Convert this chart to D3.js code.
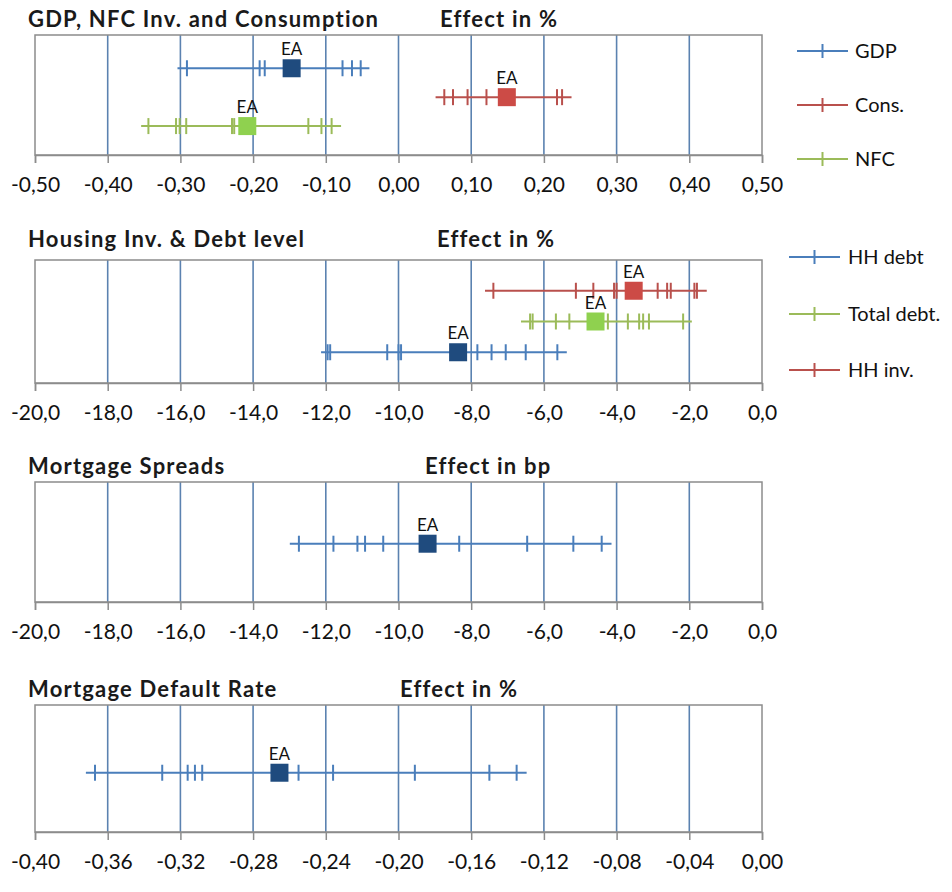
<!DOCTYPE html>
<html>
<head>
<meta charset="utf-8">
<script src="https://cdn.jsdelivr.net/npm/d3@7"></script>
<style>
  body { margin: 0; background: #ffffff; }
  svg { display: block; font-family: Lato, "Open Sans", sans-serif; }
</style>
</head>
<body>
<svg id="chart" width="952" height="892"></svg>
<script>
// ---- Panel 1: GDP, NFC investment and consumption (effect in %) ----
const gdpCountries  = [-0.291, -0.191, -0.184, -0.077, -0.064, -0.052];
const gdpRange      = [-0.304, -0.040];
const gdpEA         = -0.147;
const consCountries = [0.063, 0.075, 0.095, 0.121, 0.218, 0.225];
const consRange     = [0.051, 0.238];
const consEA        = 0.149;
const nfcCountries  = [-0.344, -0.306, -0.301, -0.292, -0.229, -0.226, -0.124, -0.106, -0.092];
const nfcRange      = [-0.354, -0.079];
const nfcEA         = -0.208;
const panel1Ticks   = [-0.5, -0.4, -0.3, -0.2, -0.1, 0, 0.1, 0.2, 0.3, 0.4, 0.5];

// ---- Panel 2: housing investment and debt level (effect in %) ----
const hhInvCountries  = [-7.39, -5.12, -4.64, -4.07, -4.00, -2.87, -2.61, -2.51, -1.86, -1.79];
const hhInvRange      = [-7.62, -1.52];
const hhInvEA         = -3.53;
const totDebtCountries = [-6.38, -6.31, -5.67, -5.30, -4.24, -3.69, -3.38, -3.27, -3.11, -2.17];
const totDebtRange    = [-6.63, -1.93];
const totDebtEA       = -4.58;
const hhDebtCountries = [-11.95, -11.88, -10.31, -10.00, -9.93, -7.83, -7.44, -7.05, -6.50, -5.63];
const hhDebtRange     = [-12.13, -5.37];
const hhDebtEA        = -8.36;
const panel2Ticks     = [-20, -18, -16, -14, -12, -10, -8, -6, -4, -2, 0];

// ---- Panel 3: mortgage spreads (effect in bp) ----
const spreadCountries = [-12.74, -11.79, -11.13, -10.92, -10.42, -8.33, -6.46, -5.19, -4.41];
const spreadRange     = [-12.99, -4.14];
const spreadEA        = -9.20;
const panel3Ticks     = [-20, -18, -16, -14, -12, -10, -8, -6, -4, -2, 0];

// ---- Panel 4: mortgage default rate (effect in %) ----
const defaultCountries = [-0.367, -0.330, -0.316, -0.312, -0.308, -0.255, -0.236, -0.191, -0.150, -0.135];
const defaultRange     = [-0.372, -0.1295];
const defaultEA        = -0.2655;
const panel4Ticks      = [-0.40, -0.36, -0.32, -0.28, -0.24, -0.20, -0.16, -0.12, -0.08, -0.04, 0];

// Colours
const BLUE_LINE = "#4a7ebb", BLUE_EA = "#1f4b7e";
const RED_LINE  = "#b9504c", RED_EA  = "#cc4b46";
const GREEN_LINE = "#9bbb59", GREEN_EA = "#8fd14f";
const GRID = "#5b82b0", FRAME = "#8c8c8c";

const locale = d3.formatLocale({ decimal: ",", thousands: ".", grouping: [3], currency: ["", "€"], minus: "-" });

const panels = [
  {
    title: "GDP, NFC Inv. and Consumption", unit: "Effect in %", unitX: 440,
    top: 35, bottom: 155, titleY: 27, domain: [-0.5, 0.5], ticks: panel1Ticks, fmt: locale.format(".2f"),
    yMax: 4.15,
    series: [
      { name: "GDP",   row: 3, values: gdpCountries,  range: gdpRange,  ea: gdpEA,  line: BLUE_LINE,  fill: BLUE_EA },
      { name: "Cons.", row: 2, values: consCountries, range: consRange, ea: consEA, line: RED_LINE,   fill: RED_EA },
      { name: "NFC",   row: 1, values: nfcCountries,  range: nfcRange,  ea: nfcEA,  line: GREEN_LINE, fill: GREEN_EA }
    ],
    legend: { x0: 797, x1: 848, tx: 855, ys: [51, 105, 159], order: ["GDP", "Cons.", "NFC"] }
  },
  {
    title: "Housing Inv. & Debt level", unit: "Effect in %", unitX: 437,
    top: 260, bottom: 383, titleY: 247, domain: [-20, 0], ticks: panel2Ticks, fmt: locale.format(".1f"),
    yMax: 4,
    series: [
      { name: "HH inv.",     row: 3, values: hhInvCountries,   range: hhInvRange,   ea: hhInvEA,   line: RED_LINE,   fill: RED_EA },
      { name: "Total debt.", row: 2, values: totDebtCountries, range: totDebtRange, ea: totDebtEA, line: GREEN_LINE, fill: GREEN_EA },
      { name: "HH debt",     row: 1, values: hhDebtCountries,  range: hhDebtRange,  ea: hhDebtEA,  line: BLUE_LINE,  fill: BLUE_EA }
    ],
    legend: { x0: 789, x1: 840, tx: 848, ys: [257, 314, 370], order: ["HH debt", "Total debt.", "HH inv."] }
  },
  {
    title: "Mortgage Spreads", unit: "Effect in bp", unitX: 425,
    top: 482, bottom: 602, titleY: 474, domain: [-20, 0], ticks: panel3Ticks, fmt: locale.format(".1f"),
    yMax: 2.1,
    series: [
      { name: "Spreads", row: 1.02, values: spreadCountries, range: spreadRange, ea: spreadEA, line: BLUE_LINE, fill: BLUE_EA }
    ]
  },
  {
    title: "Mortgage Default Rate", unit: "Effect in %", unitX: 400,
    top: 705, bottom: 832, titleY: 697, domain: [-0.4, 0], ticks: panel4Ticks, fmt: locale.format(".2f"),
    yMax: 2.1,
    series: [
      { name: "Default", row: 0.98, values: defaultCountries, range: defaultRange, ea: defaultEA, line: BLUE_LINE, fill: BLUE_EA }
    ]
  }
];

const svg = d3.select("#chart");
const LEFT = 35, RIGHT = 762;
const EA_SIZE = 18, TICK_H = 16;

panels.forEach(p => {
  const g = svg.append("g");
  const x = d3.scaleLinear().domain(p.domain).range([LEFT, RIGHT]);
  const y = d3.scaleLinear().domain([0, p.yMax]).range([p.bottom, p.top]);

  // titles
  g.append("text").attr("x", 28).attr("y", p.titleY)
    .attr("font-size", 22).attr("font-weight", 700).attr("letter-spacing", 1.2)
    .attr("fill", "#1a1a1a").text(p.title);
  g.append("text").attr("x", p.unitX).attr("y", p.titleY)
    .attr("font-size", 22).attr("font-weight", 700).attr("letter-spacing", 1.2)
    .attr("fill", "#1a1a1a").text(p.unit);

  // vertical gridlines
  g.append("g").selectAll("line").data(p.ticks.slice(1, -1)).join("line")
    .attr("x1", d => x(d)).attr("x2", d => x(d))
    .attr("y1", p.top).attr("y2", p.bottom)
    .attr("stroke", GRID).attr("stroke-width", 1.6);

  // plot frame
  g.append("rect").attr("x", LEFT).attr("y", p.top)
    .attr("width", RIGHT - LEFT).attr("height", p.bottom - p.top)
    .attr("fill", "none").attr("stroke", FRAME).attr("stroke-width", 1.5);

  // x axis
  const axis = g.append("g").attr("transform", `translate(0,${p.bottom})`)
    .call(d3.axisBottom(x).tickValues(p.ticks).tickFormat(p.fmt).tickSize(8).tickPadding(14));
  axis.select(".domain").attr("stroke", FRAME).attr("stroke-width", 1.5);
  axis.selectAll(".tick line").attr("stroke", FRAME).attr("stroke-width", 1.5);
  axis.selectAll(".tick text").attr("font-size", 21).attr("fill", "#111")
    .attr("font-family", "Lato, 'Open Sans', sans-serif");

  // series: range line, country ticks, euro-area marker
  p.series.forEach(s => {
    const sy = y(s.row);
    const sg = g.append("g");
    sg.append("line")
      .attr("x1", x(s.range[0])).attr("x2", x(s.range[1]))
      .attr("y1", sy).attr("y2", sy)
      .attr("stroke", s.line).attr("stroke-width", 2);
    sg.selectAll("line.country").data(s.values).join("line").attr("class", "country")
      .attr("x1", d => x(d)).attr("x2", d => x(d))
      .attr("y1", sy - TICK_H / 2).attr("y2", sy + TICK_H / 2)
      .attr("stroke", s.line).attr("stroke-width", 2);
    sg.append("rect")
      .attr("x", x(s.ea) - EA_SIZE / 2).attr("y", sy - EA_SIZE / 2)
      .attr("width", EA_SIZE).attr("height", EA_SIZE)
      .attr("fill", s.fill);
    sg.append("text")
      .attr("x", x(s.ea)).attr("y", sy - EA_SIZE / 2 - 4)
      .attr("text-anchor", "middle").attr("font-size", 17).attr("fill", "#111")
      .text("EA");
  });

  // legend
  if (p.legend) {
    const L = p.legend;
    L.order.forEach((name, i) => {
      const s = p.series.find(d => d.name === name);
      const ly = L.ys[i];
      const lg = g.append("g");
      lg.append("line").attr("x1", L.x0).attr("x2", L.x1).attr("y1", ly).attr("y2", ly)
        .attr("stroke", s.line).attr("stroke-width", 2);
      lg.append("line").attr("x1", (L.x0 + L.x1) / 2).attr("x2", (L.x0 + L.x1) / 2)
        .attr("y1", ly - 7).attr("y2", ly + 7)
        .attr("stroke", s.line).attr("stroke-width", 2);
      lg.append("text").attr("x", L.tx).attr("y", ly + 7)
        .attr("font-size", 20).attr("fill", "#111").text(name);
    });
  }
});
</script>
</body>
</html>
